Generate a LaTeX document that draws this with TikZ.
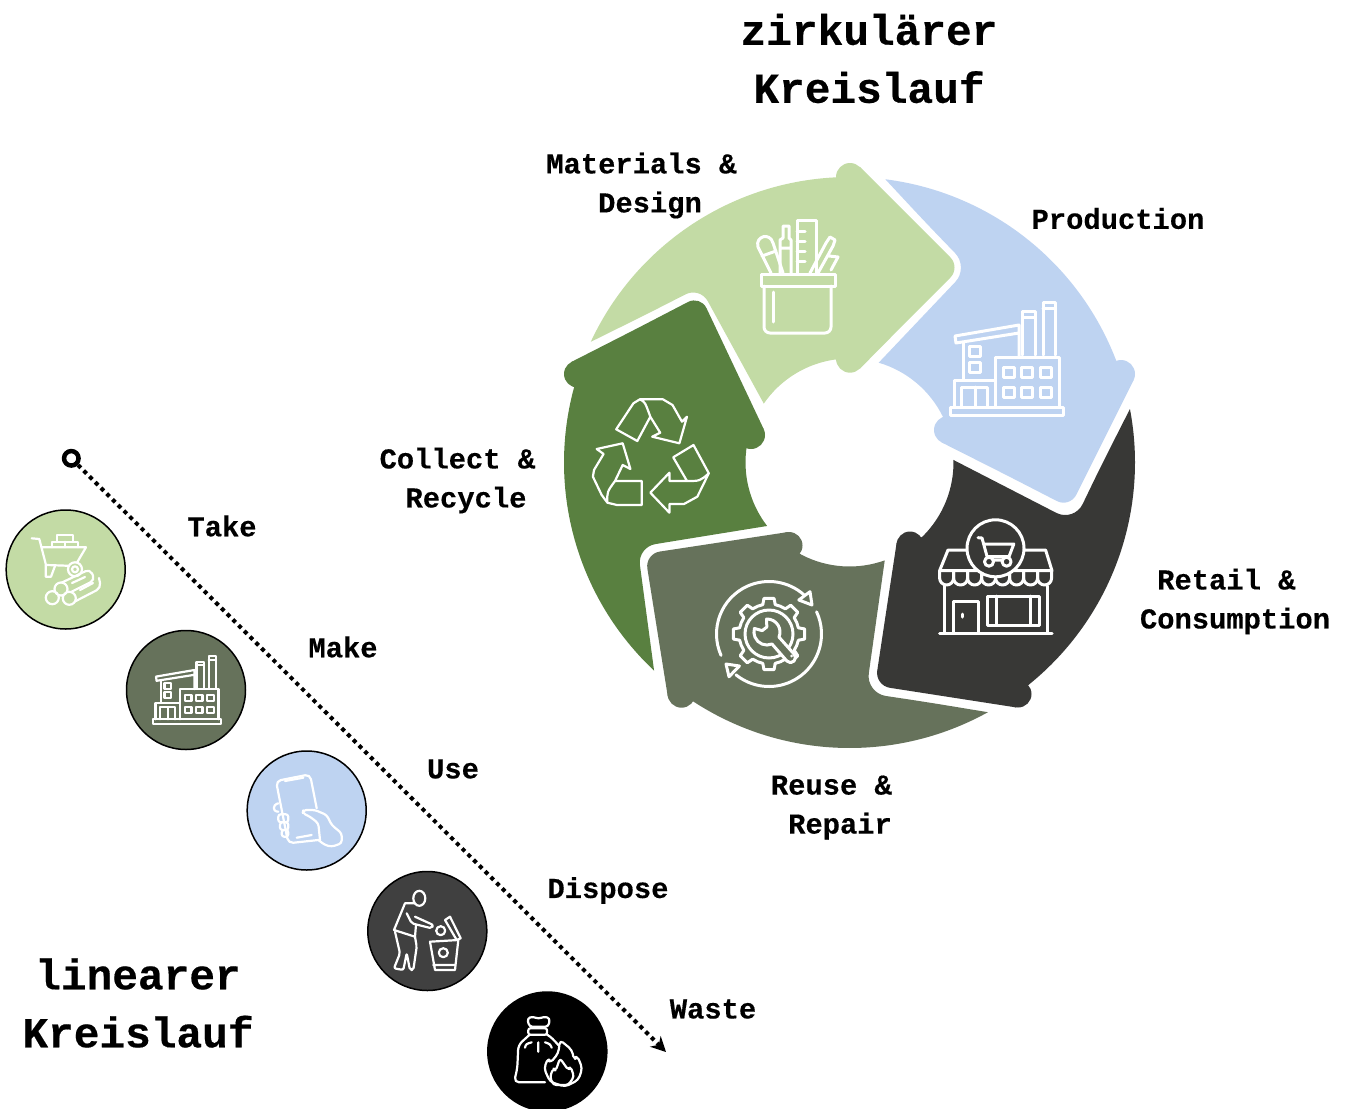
\documentclass[tikz,border=0pt]{standalone}
\usepackage{fontspec}
\newfontfamily\labelfont{Liberation Mono}[BoldFeatures={FakeBold=0.4}]
\usetikzlibrary{arrows.meta}
\definecolor{matgreen}{HTML}{C3DBA5}
\definecolor{prodblue}{HTML}{BED3F1}
\definecolor{retailgrey}{HTML}{383836}
\definecolor{reuseolive}{HTML}{66725B}
\definecolor{recyclegreen}{HTML}{598040}
\definecolor{disposegrey}{HTML}{404040}
\def\ringouter{285.5}
\def\ringinner{104}
\tikzset{
  labeltext/.style={font=\labelfont\bfseries\fontsize{28.8pt}{39pt}\selectfont,align=center,inner sep=0pt},
  titletext/.style={font=\labelfont\bfseries\fontsize{42.8pt}{58pt}\selectfont,align=center,inner sep=0pt},
  stepcircle/.style={circle,draw=black,line width=1.5pt,minimum size=119pt,inner sep=0pt},
  iconline/.style={draw=white,line width=3pt,line join=round},
  iconthin/.style={draw=white,line width=2.2pt,line join=round},
  factoryicon/.pic={
    \draw[pic actions] (0,-8) rectangle (113,0);
    \draw[pic actions] (45,-8) -- (45,-58) -- (109,-58) -- (109,-8);
    \draw[pic actions] (72.6,-60) -- (72.6,-104) -- (85,-104) -- (85,-60) (72.6,-98) -- (85,-98);
    \draw[pic actions] (93,-60) -- (93,-113) -- (105,-113) -- (105,-60) (93,-107) -- (105,-107);
    \draw[pic actions] (5,-79) -- (69,-90) -- (69,-82) -- (6,-72) -- cycle (69,-82) -- (69,-58);
    \draw[pic actions] (13,-72) -- (13,-35);
    \draw[pic actions] (19,-69) rectangle (30,-59) (19,-53) rectangle (30,-43);
    \draw[pic actions] (4,-8) -- (4,-35) -- (44,-35);
    \draw[pic actions] (11,-8) -- (11,-28) -- (37,-28) -- (37,-8) (25,-28) -- (25,-8);
    \foreach \wx in {53,71.5,90}
      \foreach \wy in {-48,-28}
        \draw[pic actions] (\wx,\wy) rectangle ++(11,10);
  }
}
\begin{document}
\begin{tikzpicture}[x=1pt,y=-1pt,line cap=round,line join=round]
  \useasboundingbox (0,0) rectangle (1346,1108);
  \coordinate (ringc) at (849.5,462.5);

  \fill[matgreen] ([shift={(205:\ringouter)}]ringc) arc[start angle=205,end angle=267.1,radius=\ringouter] -- (850,177) -- (860,167) [rounded corners=14.5pt] -- (960.5,267.5) -- (910,318) [sharp corners] -- (860,368.6) -- (850,359) -- ([shift={(261.9:\ringinner)}]ringc) arc[start angle=261.9,end angle=214.5,radius=\ringinner] [rounded corners=16pt] -- (700,287) -- (645,315) [sharp corners] -- ([shift={(205:\ringouter)}]ringc);
  \fill[matgreen] (850,177) circle (14) (850,358.7) circle (14);

  \fill[prodblue] ([shift={(277.2:\ringouter)}]ringc) arc[start angle=277.2,end angle=338.9,radius=\ringouter] -- (1121,374) -- (1133.6,380.1) [rounded corners=14.5pt] -- (1069.8,507.7) -- (1007,475.4) [sharp corners] -- (941.6,442.4) -- (948,430) -- ([shift={(334:\ringinner)}]ringc) arc[start angle=334,end angle=286.3,radius=\ringinner] [rounded corners=20pt] -- (969,267.5) -- (927,224) [sharp corners] -- ([shift={(277.2:\ringouter)}]ringc);
  \fill[prodblue] (1121,374) circle (14) (948,430) circle (14);

  \fill[retailgrey] ([shift={(349.2:\ringouter)}]ringc) arc[start angle=349.2,end angle=410.9,radius=\ringouter] -- (1018,694) -- (1016,707.4) [rounded corners=15pt] -- (875,685.5) -- (885.8,614) [sharp corners] -- (896.6,543) -- (910,545) -- ([shift={(45.3:\ringinner)}]ringc) arc[start angle=45.3,end angle=-1.4,radius=\ringinner] [rounded corners=20pt] -- (1074,522) -- (1101,466) [sharp corners] -- ([shift={(349.2:\ringouter)}]ringc);
  \fill[retailgrey] (1018,694) circle (13.5) (910,545) circle (13.5);

  \fill[reuseolive] ([shift={(61:\ringouter)}]ringc) arc[start angle=61,end angle=122.9,radius=\ringouter] -- (681.5,693.7) -- (667.7,696) [rounded corners=15pt] -- (645,553.8) -- (716,543) [sharp corners] -- (787,532.2) -- (789,545.5) -- ([shift={(117.5:\ringinner)}]ringc) arc[start angle=117.5,end angle=70.2,radius=\ringinner] [rounded corners=20pt] -- (866,693) -- (926,702) [sharp corners] -- ([shift={(61:\ringouter)}]ringc);
  \fill[reuseolive] (681.5,693.7) circle (14) (789,545.5) circle (13.5);

  \fill[recyclegreen] ([shift={(195.1:\ringouter)}]ringc) arc[start angle=195.1,end angle=133.2,radius=\ringouter] [rounded corners=18pt] -- (637.5,547) -- (702,536.5) [sharp corners] -- (767,526) -- ([shift={(142.4:\ringinner)}]ringc) arc[start angle=142.4,end angle=189.7,radius=\ringinner] -- (751,435) -- (763.6,428.9) [rounded corners=14pt] -- (700.5,295.5) -- (636,329) [sharp corners] -- (571.3,362) -- (577.5,374) -- cycle;
  \fill[recyclegreen] (577.5,374) circle (13.5) (751,435) circle (14);

  % pen cup
  \draw[iconline] (761,274) rectangle (835,286);
  \draw[iconline,rounded corners=6pt] (764,286) -- (764,333) -- (831,333) -- (831,286);
  \draw[iconline] (773,292) -- (773,322);
  \draw[iconline] (797,273) -- (797,220) -- (816,220) -- (816,273);
  \foreach \ty in {231,241,251,261}
    \draw[iconline] (797,\ty) -- (805,\ty);
  \draw[iconline] (780,273) -- (780,240) -- (783,238) -- (783,226) -- (789,226) -- (789,238) -- (791,240) -- (791,273) (780,248) -- (791,248);
  \draw[iconline] (771,273) -- (758,247) .. controls (755,236) and (770,232) .. (773,243) -- (783,273) (762,256) -- (776,251);
  \draw[iconline] (810,273) -- (826,243) -- (830,237) -- (835,240) -- (833,246) -- (818,273) (829,256) -- (838,257) -- (831,270);

  \pic[iconline] at (950,415) {factoryicon};

  % recycle
  \draw[iconthin] (637.3,441) -- (616.2,429.3) -- (633.4,403.3) -- (639.9,399.3) -- (662.9,399.3) -- (672.5,405) -- (682,421.7) -- (687,416.7) -- (679.4,443.3) -- (652.2,436.7) -- (660.2,432.7) -- (650.3,416.7) -- cycle (639.9,399.3) .. controls (645,402) .. (650.3,416.7);
  \draw[iconthin] (622.7,443.3) -- (596.7,449) -- (603.6,454) -- (594,470) -- (592.9,476.7) -- (601.7,495) -- (607.4,502.7) -- (617,505) -- (641.8,505) -- (641.8,481) -- (615,481) -- (622.7,465) -- (630.4,469) -- cycle (607.4,502.7) .. controls (607,492) .. (615,481);
  \draw[iconthin] (693.5,445) -- (673.2,457.3) -- (687,481) -- (669.4,481) -- (669.4,472.7) -- (650.3,492.7) -- (669.4,512.7) -- (669.4,504) -- (684,504) -- (697.3,496.7) -- (708.8,473.3) -- cycle (687,481) .. controls (700,481) .. (708.8,473.3);

  % store
  \draw[iconline] (948,550) -- (1045.6,550) -- (1052,570.7) -- (939.6,570.7) -- cycle;
  \foreach \sx in {0,...,7}
    \draw[iconline] (939.6+14*\sx,570.7) -- (939.6+14*\sx,578) arc[start angle=180,end angle=0,radius=7] -- (953.6+14*\sx,570.7);
  \draw[iconline,fill=retailgrey] (995.5,548.3) circle (28.5);
  \draw[iconline] (978,537.7) -- (982,538) -- (988,560) -- (1008,560) (983.5,544) -- (1013.8,544) -- (1009,556.7) -- (987.4,556.7);
  \draw[iconline,fill=retailgrey] (989,561.7) circle (4.5) (1006.6,561.7) circle (4.5);
  \draw[iconline] (944,586) -- (944,633) (1047.5,586) -- (1047.5,633) (939.6,633) -- (1052,633);
  \draw[iconline] (953.8,632) -- (953.8,601.7) -- (978.6,601.7) -- (978.6,632) (962.5,614) -- (962.5,617);
  \draw[iconline] (987.4,596) rectangle (1039,625) (996,596) -- (996,625) (1030,596) -- (1030,625);

  % gear and wrench
  \begin{scope}[shift={(769,634)}]
    \draw[iconline] (156:52.5) arc[start angle=156,end angle=312,radius=52.5];
    \draw[iconline] (335:52.5) arc[start angle=335,end angle=489,radius=52.5];
    \foreach \a in {0,45,...,315}
      \draw[iconline] (\a-12:30) -- (\a-8:36) -- (\a+8:36) -- (\a+12:30) arc[start angle=\a+12,end angle=\a+33,radius=30];
    \draw[iconline] (0,0) circle (24);
  \end{scope}
  \draw[iconline] (798.8,600) -- (810,591.7) -- (812,605) -- cycle (726,664) -- (739.4,666) -- (729,676.7) -- cycle;
  \begin{scope}[shift={(767,632)}]
    \filldraw[iconline,fill=reuseolive] (268:13) arc[start angle=268,end angle=383,radius=13] -- (27,22) arc[start angle=315,end angle=495,radius=5] -- (5,12) arc[start angle=67,end angle=196,radius=13] -- (196:5) -- (268:5) -- cycle;
  \end{scope}
  \fill[white] (791.7,656) circle (1.5);

  \node[titletext] (circulartitle) at (869,58.5) {zirkulärer\\Kreislauf};
  \node[labeltext] (materials) at (650,185.5) {Materials \&\phantom{x}\\Design};
  \node[labeltext] (production) at (1118,218.5) {Production};
  \node[labeltext] (retail) at (1235,601.5) {Retail \&\phantom{x}\\Consumption};
  \node[labeltext] (reuse) at (840,807.5) {Reuse \&\phantom{x}\\Repair};
  \node[labeltext] (collect) at (466,480.5) {Collect \&\phantom{x}\\Recycle};

  \node[titletext] (lineartitle) at (138,1003) {linearer\\Kreislauf};
  \node[draw=black,circle,line width=4.5pt,minimum size=14.5pt,inner sep=0pt] (linestart) at (71.3,458.3) {};
  \coordinate (lineend) at (666,1052);
  \draw[line cap=butt,line width=4pt,dash pattern=on 4pt off 4.1pt,-{Stealth[length=15pt,width=15pt]}] (linestart) -- (lineend);

  \node[stepcircle,fill=matgreen] (takestep) at (65.7,569.5) {};
  \node[stepcircle,fill=reuseolive] (makestep) at (186,690) {};
  \node[stepcircle,fill=prodblue] (usestep) at (306.7,810.5) {};
  \node[stepcircle,fill=disposegrey] (disposestep) at (427.3,931) {};
  \node[stepcircle,fill=black] (wastestep) at (547.3,1051.5) {};

  \node[labeltext] (take) at (222,526) {Take};
  \node[labeltext] (make) at (343,647) {Make};
  \node[labeltext] (use) at (453,769) {Use};
  \node[labeltext] (dispose) at (608,890.5) {Dispose};
  \node[labeltext] (waste) at (713,1009) {Waste};

  % barrow and logs
  \draw[iconthin] (31.7,538.3) -- (39.3,539) -- (46,565) (42,547.3) -- (86,547.3) -- (75,566) -- (46.7,565);
  \draw[iconthin] (45.7,565) -- (45.7,576.7) -- (51,576.7) -- (55,566);
  \draw[iconthin] (51.7,547.3) -- (51.7,541.7) -- (78.3,541.7) -- (78.3,547.3) (65,541.7) -- (65,547.3) (56.7,541.7) -- (56.7,535) -- (72.7,535) -- (72.7,541.7);
  \draw[iconthin,fill=matgreen] (75,569.3) circle (7) (75,569.3) circle (3);
  \draw[iconthin,rounded corners=5pt] (61,583) -- (90,569) -- (95,580) -- (65,595);
  \draw[iconthin,rounded corners=5pt] (72,603) -- (101,588) -- (99,578);
  \draw[iconthin,fill=matgreen] (61,589) circle (6.5) (52.3,597.7) circle (6.5) (69.3,598.3) circle (6.5);
  \draw[iconthin] (72,583) -- (85,577) (80,590) -- (93,583);

  \pic[iconthin,scale=0.6] at (153,724) {factoryicon};

  % phone
  \draw[iconthin,rounded corners=5pt] (316.7,808.3) -- (310,774.3) -- (276,781) -- (288.3,843.3) -- (318.3,840);
  \draw[iconthin] (285,781) -- (303.3,777.7) (296.7,837.7) -- (311.7,835);
  \draw[iconthin,rounded corners=3pt] (320,840) -- (318.3,823.3) -- (310,816.7) -- (302.7,813.3) -- (303.3,810) -- (315,810) -- (326.7,815) -- (331.7,825) -- (341.7,833.3) -- (341.7,843.3) -- (331.7,846.7) -- (325,845) -- (318.3,840);
  \draw[iconthin,rounded corners=2.5pt] (278.3,803.3) -- (274,805) -- (274,811) -- (278.3,811.7) (278.3,814.3) rectangle (288.3,822.3) (280,822.3) rectangle (288.3,830) (281.7,830) rectangle (288.3,836.7);

  % person at bin
  \draw[iconthin] (419.3,898.3) ellipse (6 and 7.5);
  \draw[iconthin] (414,903.3) -- (405,903.3) -- (394,930) -- (415,936.7) -- (416,925);
  \draw[iconthin,rounded corners=2pt] (406.7,913.3) -- (411.7,923.3) -- (431.7,928.3) -- (433.3,925) -- (415,916.7);
  \draw[iconthin,rounded corners=2pt] (395,931.7) -- (400,953.3) -- (394,968.3) -- (403.3,970) -- (406.7,953.3) -- (410,970) -- (413.3,970) -- (416.7,946.7) -- (415,936.7);
  \draw[iconthin] (430,941.7) -- (458.3,940) -- (455,970) -- (435,970) -- cycle (433.3,965) -- (455,965);
  \draw[iconthin] (443.3,952.7) circle (4.5) (440.7,930.7) circle (4.5);
  \draw[iconthin] (445,920) -- (450,916.7) -- (460.7,938.3) -- (456.7,940) -- cycle;

  % bag and flame
  \draw[iconthin,rounded corners=3pt] (529.3,1026.7) -- (527.3,1018.3) -- (533,1016.5) -- (538.5,1019) -- (544,1016.5) -- (550,1018.3) -- (548.3,1026.7) -- cycle;
  \draw[iconthin,rounded corners=2pt] (528.3,1028.3) rectangle (547,1034.7);
  \draw[iconthin,rounded corners=5pt] (529.3,1035) -- (518.3,1045) -- (517.3,1068.3) -- (514,1082.3) -- (545,1082.3);
  \draw[iconthin] (546.7,1034.3) .. controls (552,1038) .. (558.3,1045) (525,1047.7) .. controls (526,1044) .. (531.7,1042.3) (545,1042.3) .. controls (550,1044) .. (551.7,1047.7) (538.3,1042.3) -- (538.3,1051.7);
  \draw[iconthin,rounded corners=4pt] (560,1040) -- (572,1050) -- (574,1060) -- (577.3,1055.7) -- (582.3,1068.3) -- (578.3,1080) -- (565,1086.7) -- (550,1081.7) -- (544,1068.3) -- (548.3,1057.7) -- (550,1063.3) -- (558.3,1053.3) -- cycle;
  \draw[iconthin,rounded corners=3pt] (560,1058.3) -- (568.3,1070) -- (570.7,1066.7) -- (574,1076.7) -- (568.3,1085) -- (553.3,1085) -- (550,1076.7) -- (553.3,1068.3) -- (555.7,1070.7) -- cycle;
\end{tikzpicture}
\end{document}
